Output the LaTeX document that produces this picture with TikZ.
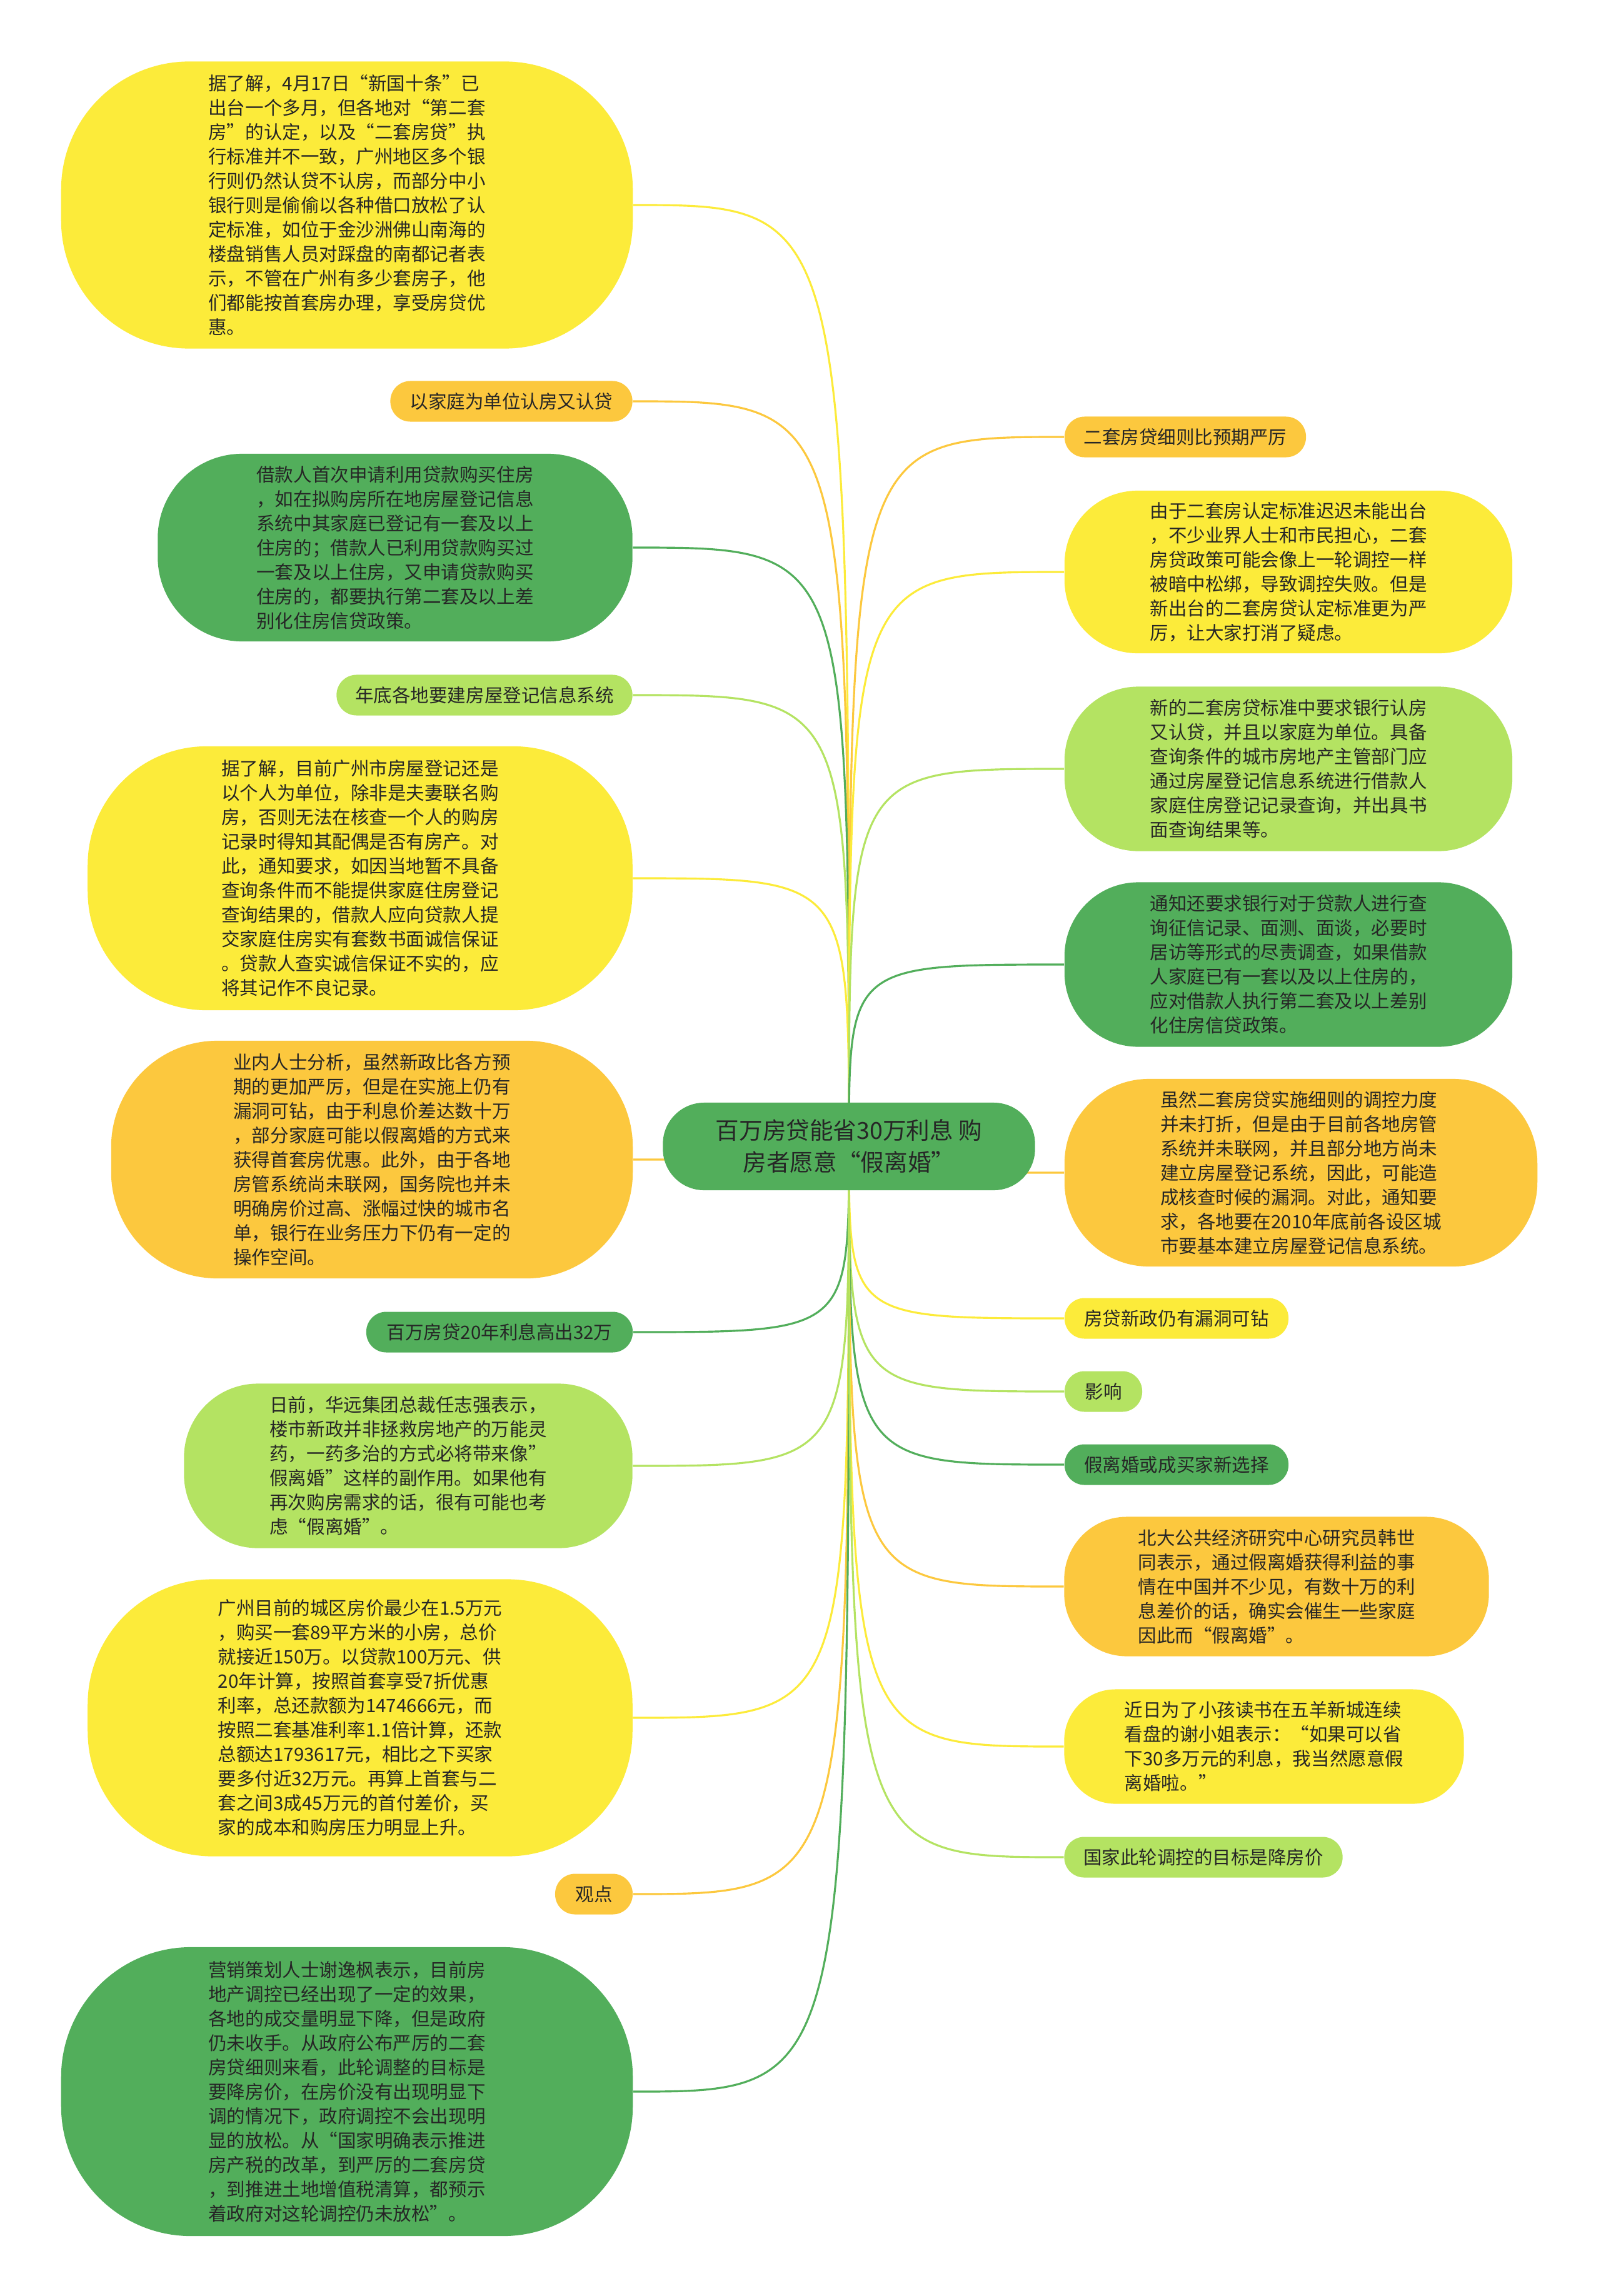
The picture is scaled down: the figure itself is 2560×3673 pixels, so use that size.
\documentclass[tikz,border=0pt]{standalone}
\usepackage{fontspec}
\newfontfamily\cjk{Noto Sans CJK SC}
\usetikzlibrary{backgrounds}
\definecolor{mapyellow}{RGB}{252,235,58}
\definecolor{maporange}{RGB}{252,200,62}
\definecolor{mapgreen}{RGB}{82,174,91}
\definecolor{maplime}{RGB}{180,227,98}
\definecolor{mapink}{RGB}{38,38,38}

\begin{document}
\begin{tikzpicture}[x=0.01cm, y=-0.01cm]
    % Style definitions
    \tikzset{
      topic/.style={font=\cjk\fontsize{8.4pt}{11.1pt}\selectfont, text=mapink,
        align=left, inner sep=0pt},
      pill/.style={topic, rounded corners=0.32cm, minimum height=0.65cm},
      blob/.style={topic, rounded corners=#1},
      link/.style={line width=0.9pt},
    }
    % ------------------------------------------------------------------
    % Helper macro: one branch from the root to anchor #1, in colour #2
    % ------------------------------------------------------------------
    \newcommand{\twig}[2]{%
      \draw[link, #2] (root.center) .. controls (root.center |- #1) .. (#1);%
    }
    \useasboundingbox (0,0) rectangle (2560,3673);

    % Root
    \node[topic, align=center, rounded corners=0.66cm, fill=mapgreen,
      font=\cjk\fontsize{10.7pt}{14.5pt}\selectfont,
      minimum width=5.95cm, minimum height=1.40cm] (root) at (1358,1834)
      {百万房贷能省30万利息 购\\房者愿意“假离婚”};

    % Left column
    \node[blob=2.05cm, fill=mapyellow, minimum width=9.14cm, minimum height=4.59cm]
      (survey) at (555,328)
      {据了解，4月17日“新国十条”已\\出台一个多月，但各地对“第二套\\房”的认定，以及“二套房贷”执\\行标准并不一致，广州地区多个银\\行则仍然认贷不认房，而部分中小\\银行则是偷偷以各种借口放松了认\\定标准，如位于金沙洲佛山南海的\\楼盘销售人员对踩盘的南都记者表\\示，不管在广州有多少套房子，他\\们都能按首套房办理，享受房贷优\\惠。};
    \node[pill, fill=maporange, minimum width=3.87cm] (familyunit) at (818,642)
      {以家庭为单位认房又认贷};
    \node[blob=1.35cm, fill=mapgreen, minimum width=7.59cm, minimum height=3.00cm]
      (borrower) at (632,876)
      {借款人首次申请利用贷款购买住房\\，如在拟购房所在地房屋登记信息\\系统中其家庭已登记有一套及以上\\住房的；借款人已利用贷款购买过\\一套及以上住房，又申请贷款购买\\住房的，都要执行第二套及以上差\\别化住房信贷政策。};
    \node[pill, fill=maplime, minimum width=4.73cm] (registry) at (775,1112)
      {年底各地要建房屋登记信息系统};
    \node[blob=1.9cm, fill=mapyellow, minimum width=8.71cm, minimum height=4.22cm]
      (guangzhou) at (576,1405)
      {据了解，目前广州市房屋登记还是\\以个人为单位，除非是夫妻联名购\\房，否则无法在核查一个人的购房\\记录时得知其配偶是否有房产。对\\此，通知要求，如因当地暂不具备\\查询条件而不能提供家庭住房登记\\查询结果的，借款人应向贷款人提\\交家庭住房实有套数书面诚信保证\\。贷款人查实诚信保证不实的，应\\将其记作不良记录。};
    \node[blob=1.7cm, fill=maporange, minimum width=8.34cm, minimum height=3.80cm]
      (loophole) at (595,1855)
      {业内人士分析，虽然新政比各方预\\期的更加严厉，但是在实施上仍有\\漏洞可钻，由于利息价差达数十万\\，部分家庭可能以假离婚的方式来\\获得首套房优惠。此外，由于各地\\房管系统尚未联网，国务院也并未\\明确房价过高、涨幅过快的城市名\\单，银行在业务压力下仍有一定的\\操作空间。};
    \node[pill, fill=mapgreen, minimum width=4.26cm] (interest) at (799,2131)
      {百万房贷20年利息高出32万};
    \node[blob=1.18cm, fill=maplime, minimum width=7.17cm, minimum height=2.63cm]
      (renzhiqiang) at (653,2345)
      {日前，华远集团总裁任志强表示，\\楼市新政并非拯救房地产的万能灵\\药，一药多治的方式必将带来像”\\假离婚”这样的副作用。如果他有\\再次购房需求的话，很有可能也考\\虑“假离婚”。};
    \node[blob=2.0cm, fill=mapyellow, minimum width=8.71cm, minimum height=4.43cm]
      (calc) at (576,2748)
      {广州目前的城区房价最少在1.5万元\\，购买一套89平方米的小房，总价\\就接近150万。以贷款100万元、供\\20年计算，按照首套享受7折优惠\\利率，总还款额为1474666元，而\\按照二套基准利率1.1倍计算，还款\\总额达1793617元，相比之下买家\\要多付近32万元。再算上首套与二\\套之间3成45万元的首付差价，买\\家的成本和购房压力明显上升。};
    \node[pill, fill=maporange, minimum width=1.24cm] (viewpoint) at (950,3030)
      {观点};
    \node[blob=2.08cm, fill=mapgreen, minimum width=9.14cm, minimum height=4.62cm]
      (xieyifeng) at (555,3346)
      {营销策划人士谢逸枫表示，目前房\\地产调控已经出现了一定的效果，\\各地的成交量明显下降，但是政府\\仍未收手。从政府公布严厉的二套\\房贷细则来看，此轮调整的目标是\\要降房价，在房价没有出现明显下\\调的情况下，政府调控不会出现明\\显的放松。从“国家明确表示推进\\房产税的改革，到严厉的二套房贷\\，到推进土地增值税清算，都预示\\着政府对这轮调控仍未放松”。};

    % Right column
    \node[pill, fill=maporange, minimum width=3.86cm] (stricter) at (1896,699)
      {二套房贷细则比预期严厉};
    \node[blob=1.17cm, fill=mapyellow, minimum width=7.16cm, minimum height=2.60cm]
      (worry) at (2061,915)
      {由于二套房认定标准迟迟未能出台\\，不少业界人士和市民担心，二套\\房贷政策可能会像上一轮调控一样\\被暗中松绑，导致调控失败。但是\\新出台的二套房贷认定标准更为严\\厉，让大家打消了疑虑。};
    \node[blob=1.18cm, fill=maplime, minimum width=7.16cm, minimum height=2.63cm]
      (newrule) at (2061,1230)
      {新的二套房贷标准中要求银行认房\\又认贷，并且以家庭为单位。具备\\查询条件的城市房地产主管部门应\\通过房屋登记信息系统进行借款人\\家庭住房登记记录查询，并出具书\\面查询结果等。};
    \node[blob=1.18cm, fill=mapgreen, minimum width=7.16cm, minimum height=2.63cm]
      (checks) at (2061,1543)
      {通知还要求银行对于贷款人进行查\\询征信记录、面测、面谈，必要时\\居访等形式的尽责调查，如果借款\\人家庭已有一套以及以上住房的，\\应对借款人执行第二套及以上差别\\化住房信贷政策。};
    \node[blob=1.35cm, fill=maporange, minimum width=7.56cm, minimum height=3.00cm]
      (notlinked) at (2081,1876)
      {虽然二套房贷实施细则的调控力度\\并未打折，但是由于目前各地房管\\系统并未联网，并且部分地方尚未\\建立房屋登记系统，因此，可能造\\成核查时候的漏洞。对此，通知要\\求，各地要在2010年底前各设区城\\市要基本建立房屋登记信息系统。};
    \node[pill, fill=mapyellow, minimum width=3.58cm] (stillgap) at (1882,2109)
      {房贷新政仍有漏洞可钻};
    \node[pill, fill=maplime, minimum width=1.24cm] (impact) at (1765,2226)
      {影响};
    \node[pill, fill=mapgreen, minimum width=3.58cm] (fakedivorce) at (1882,2343)
      {假离婚或成买家新选择};
    \node[blob=1.0cm, fill=maporange, minimum width=6.79cm, minimum height=2.23cm]
      (hanshitong) at (2042,2538)
      {北大公共经济研究中心研究员韩世\\同表示，通过假离婚获得利益的事\\情在中国并不少见，有数十万的利\\息差价的话，确实会催生一些家庭\\因此而“假离婚”。};
    \node[blob=0.82cm, fill=mapyellow, minimum width=6.39cm, minimum height=1.83cm]
      (missxie) at (2022,2794)
      {近日为了小孩读书在五羊新城连续\\看盘的谢小姐表示：“如果可以省\\下30多万元的利息，我当然愿意假\\离婚啦。”};
    \node[pill, fill=maplime, minimum width=4.45cm] (goal) at (1925,2971)
      {国家此轮调控的目标是降房价};

    % Branches, behind the nodes
    \begin{scope}[on background layer]
      \twig{survey.east}{mapyellow}
      \twig{familyunit.east}{maporange}
      \twig{borrower.east}{mapgreen}
      \twig{registry.east}{maplime}
      \twig{guangzhou.east}{mapyellow}
      \twig{loophole.east}{maporange}
      \twig{interest.east}{mapgreen}
      \twig{renzhiqiang.east}{maplime}
      \twig{calc.east}{mapyellow}
      \twig{viewpoint.east}{maporange}
      \twig{xieyifeng.east}{mapgreen}
      \twig{stricter.west}{maporange}
      \twig{worry.west}{mapyellow}
      \twig{newrule.west}{maplime}
      \twig{checks.west}{mapgreen}
      \twig{notlinked.west}{maporange}
      \twig{stillgap.west}{mapyellow}
      \twig{impact.west}{maplime}
      \twig{fakedivorce.west}{mapgreen}
      \twig{hanshitong.west}{maporange}
      \twig{missxie.west}{mapyellow}
      \twig{goal.west}{maplime}
    \end{scope}
\end{tikzpicture}
\end{document}
